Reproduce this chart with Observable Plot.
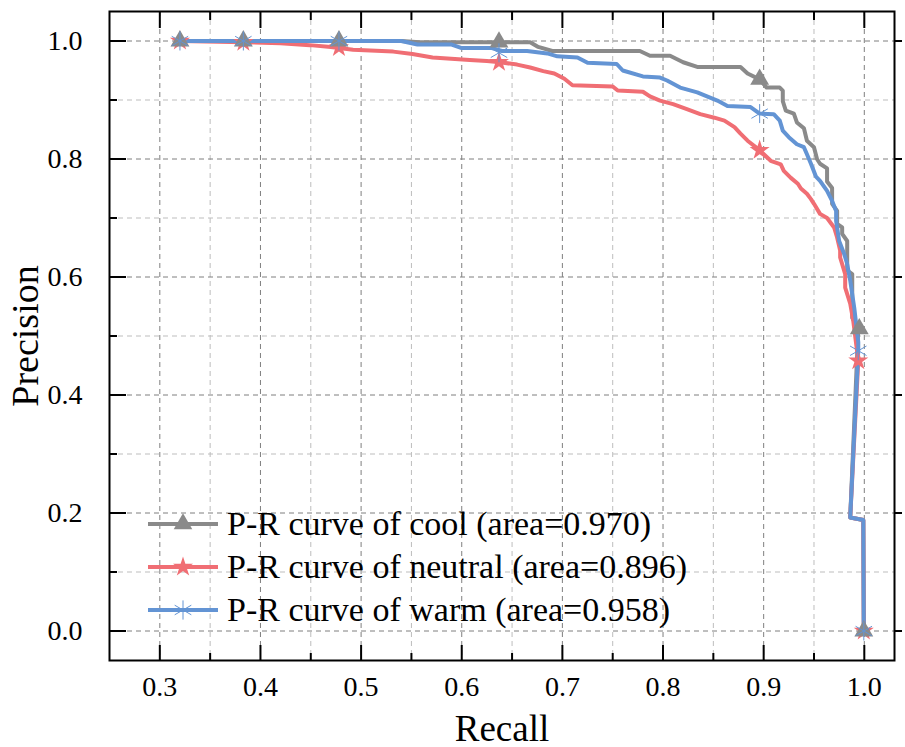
<!DOCTYPE html>
<html><head><meta charset="utf-8">
<script src="https://cdn.jsdelivr.net/npm/d3@7"></script>
<script src="https://cdn.jsdelivr.net/npm/@observablehq/plot@0.6"></script>
<style>
body{margin:0;background:#fff;}
#wrap{position:relative;width:905px;height:747px;font-family:"Liberation Serif","Times New Roman",serif;}
#legend{position:absolute;left:146px;top:502px;}
.row{display:flex;align-items:center;height:43px;font-size:34px;color:#000;white-space:nowrap;}
.row svg{margin-right:7px;}
</style></head><body><div id="wrap"></div>
<script>
// ---- data ----
const seriesNames = ["P-R curve of cool (area=0.970)", "P-R curve of neutral (area=0.896)", "P-R curve of warm (area=0.958)"];
const seriesColors = ["#8a8a8a", "#f06e74", "#6394d4"];
const seriesSymbols = ["triangle", "star", "asterisk"];

const xMajorTicks = [0.3, 0.4, 0.5, 0.6, 0.7, 0.8, 0.9, 1.0];
const xMinorTicks = [0.35, 0.45, 0.55, 0.65, 0.75, 0.85, 0.95];
const yMajorTicks = [0.0, 0.2, 0.4, 0.6, 0.8, 1.0];
const yMinorTicks = [0.1, 0.3, 0.5, 0.7, 0.9];

// [recall, precision]
const coolCurve = [
  [0.32,1.0],[0.54,1.0],[0.558,0.998],[0.668,0.998],[0.676,0.99],[0.69,0.983],[0.777,0.983],[0.787,0.975],
  [0.807,0.975],[0.82,0.964],[0.834,0.956],[0.877,0.956],[0.884,0.945],[0.896,0.935],[0.903,0.921],[0.916,0.921],
  [0.919,0.916],[0.919,0.898],[0.922,0.882],[0.93,0.877],[0.933,0.862],[0.94,0.852],[0.943,0.831],[0.95,0.82],
  [0.953,0.80],[0.956,0.792],[0.963,0.784],[0.963,0.762],[0.968,0.751],[0.968,0.724],[0.973,0.712],[0.973,0.69],
  [0.978,0.684],[0.978,0.673],[0.983,0.661],[0.983,0.611],[0.988,0.605],[0.988,0.531],[0.994,0.512],
  [0.986,0.1925],[0.999,0.188],[0.9995,0.0]
];
const neutralCurve = [
  [0.32,1.0],[0.383,0.998],[0.42,0.996],[0.449,0.993],[0.47,0.99],[0.478,0.988],[0.492,0.985],[0.532,0.982],
  [0.551,0.978],[0.571,0.972],[0.608,0.968],[0.625,0.966],[0.638,0.964],[0.655,0.96],[0.668,0.955],[0.681,0.949],
  [0.692,0.945],[0.702,0.936],[0.71,0.925],[0.75,0.923],[0.755,0.916],[0.78,0.914],[0.787,0.906],[0.797,0.899],
  [0.81,0.893],[0.823,0.885],[0.837,0.876],[0.851,0.87],[0.861,0.865],[0.871,0.854],[0.877,0.843],[0.884,0.831],
  [0.896,0.815],[0.907,0.797],[0.917,0.791],[0.92,0.78],[0.927,0.768],[0.934,0.758],[0.937,0.75],[0.943,0.741],
  [0.947,0.732],[0.95,0.724],[0.956,0.707],[0.963,0.7],[0.97,0.684],[0.973,0.667],[0.976,0.645],[0.976,0.633],
  [0.981,0.605],[0.981,0.582],[0.986,0.555],[0.989,0.526],[0.994,0.458],
  [0.986,0.1925],[0.999,0.188],[0.9995,0.0]
];
const warmCurve = [
  [0.32,1.0],[0.54,1.0],[0.556,0.994],[0.59,0.994],[0.6,0.988],[0.63,0.988],[0.64,0.983],[0.665,0.983],
  [0.685,0.979],[0.695,0.974],[0.715,0.972],[0.725,0.963],[0.754,0.961],[0.76,0.95],[0.78,0.94],[0.797,0.938],
  [0.804,0.933],[0.817,0.921],[0.834,0.913],[0.854,0.899],[0.864,0.89],[0.887,0.888],[0.896,0.877],[0.91,0.876],
  [0.916,0.865],[0.919,0.848],[0.925,0.837],[0.933,0.825],[0.94,0.82],[0.943,0.808],[0.947,0.792],[0.952,0.77],
  [0.956,0.763],[0.963,0.746],[0.968,0.729],[0.972,0.712],[0.972,0.695],[0.975,0.661],[0.98,0.639],[0.983,0.622],
  [0.986,0.594],[0.99,0.548],[0.994,0.49],[0.994,0.475],
  [0.986,0.1925],[0.999,0.188],[0.9995,0.0]
];
const coolMarkers = [[0.32,1.0],[0.383,1.0],[0.478,1.0],[0.637,0.998],[0.896,0.935],[0.995,0.512],[0.9995,0.0]];
const neutralMarkers = [[0.32,1.0],[0.383,0.998],[0.478,0.989],[0.637,0.964],[0.896,0.815],[0.994,0.458],[0.9995,0.0]];
const warmMarkers = [[0.32,1.0],[0.383,1.0],[0.478,1.0],[0.637,0.98],[0.896,0.877],[0.994,0.475],[0.9995,0.0]];

const curves = [coolCurve, neutralCurve, warmCurve];
const markers = [coolMarkers, neutralMarkers, warmMarkers];

// ---- chart ----
const fmt = d3.format(".1f");
const lineMarks = curves.map((c, i) => Plot.line(c, {x: d => d[0], y: d => d[1], stroke: seriesColors[i], strokeWidth: 4, strokeLinejoin: "round"}));
const dotOpts = [
  {symbol: "triangle", r: 7, fill: seriesColors[0], stroke: "none"},
  {symbol: "star", r: 6.3, fill: seriesColors[1], stroke: "none"},
  {symbol: "asterisk", r: 9, fill: "none", stroke: seriesColors[2], strokeWidth: 1}
];
const dotOrder = [1, 0, 2];
const dotMarks = dotOrder.map(i => Plot.dot(markers[i], {x: d => d[0], y: d => d[1], ...dotOpts[i]}));

const chart = Plot.plot({
  width: 905, height: 747,
  marginTop: 11, marginLeft: 109, marginRight: 11, marginBottom: 87,
  style: {fontFamily: '"Liberation Serif","Times New Roman",serif', background: "white", color: "black"},
  x: {domain: [0.25, 1.03], axis: null},
  y: {domain: [-0.05, 1.05], axis: null},
  marks: [
    Plot.gridX(xMinorTicks, {stroke: "#bdbdbd", strokeOpacity: 1, strokeDasharray: "5,4", strokeWidth: 1}),
    Plot.gridX(xMajorTicks, {stroke: "#7f7f7f", strokeOpacity: 1, strokeDasharray: "5,4", strokeWidth: 1}),
    Plot.gridY(yMinorTicks, {stroke: "#bdbdbd", strokeOpacity: 1, strokeDasharray: "5,4", strokeWidth: 1}),
    Plot.gridY(yMajorTicks, {stroke: "#7f7f7f", strokeOpacity: 1, strokeDasharray: "5,4", strokeWidth: 1}),
    ...lineMarks,
    ...dotMarks,
    Plot.frame({stroke: "black", strokeWidth: 2}),
    // inward ticks
    Plot.axisX(xMajorTicks, {anchor: "bottom", tickSize: 15, dy: -15, fill: "none", label: null, stroke: "black", strokeWidth: 2}),
    Plot.axisX(xMinorTicks, {anchor: "bottom", tickSize: 7, dy: -7, fill: "none", label: null, stroke: "black", strokeWidth: 2}),
    Plot.axisX(xMajorTicks, {anchor: "top", tickSize: 16, dy: 16, fill: "none", label: null, stroke: "black", strokeWidth: 2}),
    Plot.axisX(xMinorTicks, {anchor: "top", tickSize: 8, dy: 8, fill: "none", label: null, stroke: "black", strokeWidth: 2}),
    Plot.axisY(yMajorTicks, {anchor: "left", tickSize: 17, dx: 17, fill: "none", label: null, stroke: "black", strokeWidth: 2}),
    Plot.axisY(yMinorTicks, {anchor: "left", tickSize: 8, dx: 8, fill: "none", label: null, stroke: "black", strokeWidth: 2}),
    // right side: short outward ticks
    Plot.axisY(yMajorTicks, {anchor: "right", tickSize: 7, fill: "none", label: null, stroke: "black", strokeWidth: 2}),
    // tick labels
    Plot.axisX(xMajorTicks, {anchor: "bottom", tickSize: 0, tickPadding: 16, fontSize: 28, tickFormat: fmt, label: null}),
    Plot.axisY(yMajorTicks, {anchor: "left", tickSize: 0, tickPadding: 27, fontSize: 28, tickFormat: fmt, label: null}),
    // axis titles
    Plot.text(["Recall"], {frameAnchor: "bottom", dy: 80, fontSize: 37, textAnchor: "middle", lineAnchor: "bottom", text: d => d}),
    Plot.text(["Precision"], {frameAnchor: "left", dx: -84, rotate: -90, fontSize: 38, textAnchor: "middle", text: d => d})
  ]
});
const wrap = document.getElementById("wrap");
wrap.appendChild(chart);

// ---- legend (inside plot area, lower left) ----
const legend = document.createElement("div");
legend.id = "legend";
const symSize = {triangle: 150, star: 125, asterisk: 260};
const symType = {triangle: d3.symbolTriangle, star: d3.symbolStar, asterisk: d3.symbolAsterisk};
seriesNames.forEach((name, i) => {
  const row = document.createElement("div");
  row.className = "row";
  const s = seriesSymbols[i];
  const path = d3.symbol().type(symType[s]).size(symSize[s])();
  const isStroke = s === "asterisk";
  row.innerHTML = `<svg width="74" height="30" viewBox="0 0 74 30">
    <line x1="2" y1="15" x2="72" y2="15" stroke="${seriesColors[i]}" stroke-width="4"/>
    <path d="${path}" transform="translate(37,15)" fill="${isStroke ? "none" : seriesColors[i]}" stroke="${isStroke ? seriesColors[i] : "none"}" stroke-width="1"/>
  </svg><span>${name}</span>`;
  legend.appendChild(row);
});
wrap.appendChild(legend);
</script>
</body></html>
